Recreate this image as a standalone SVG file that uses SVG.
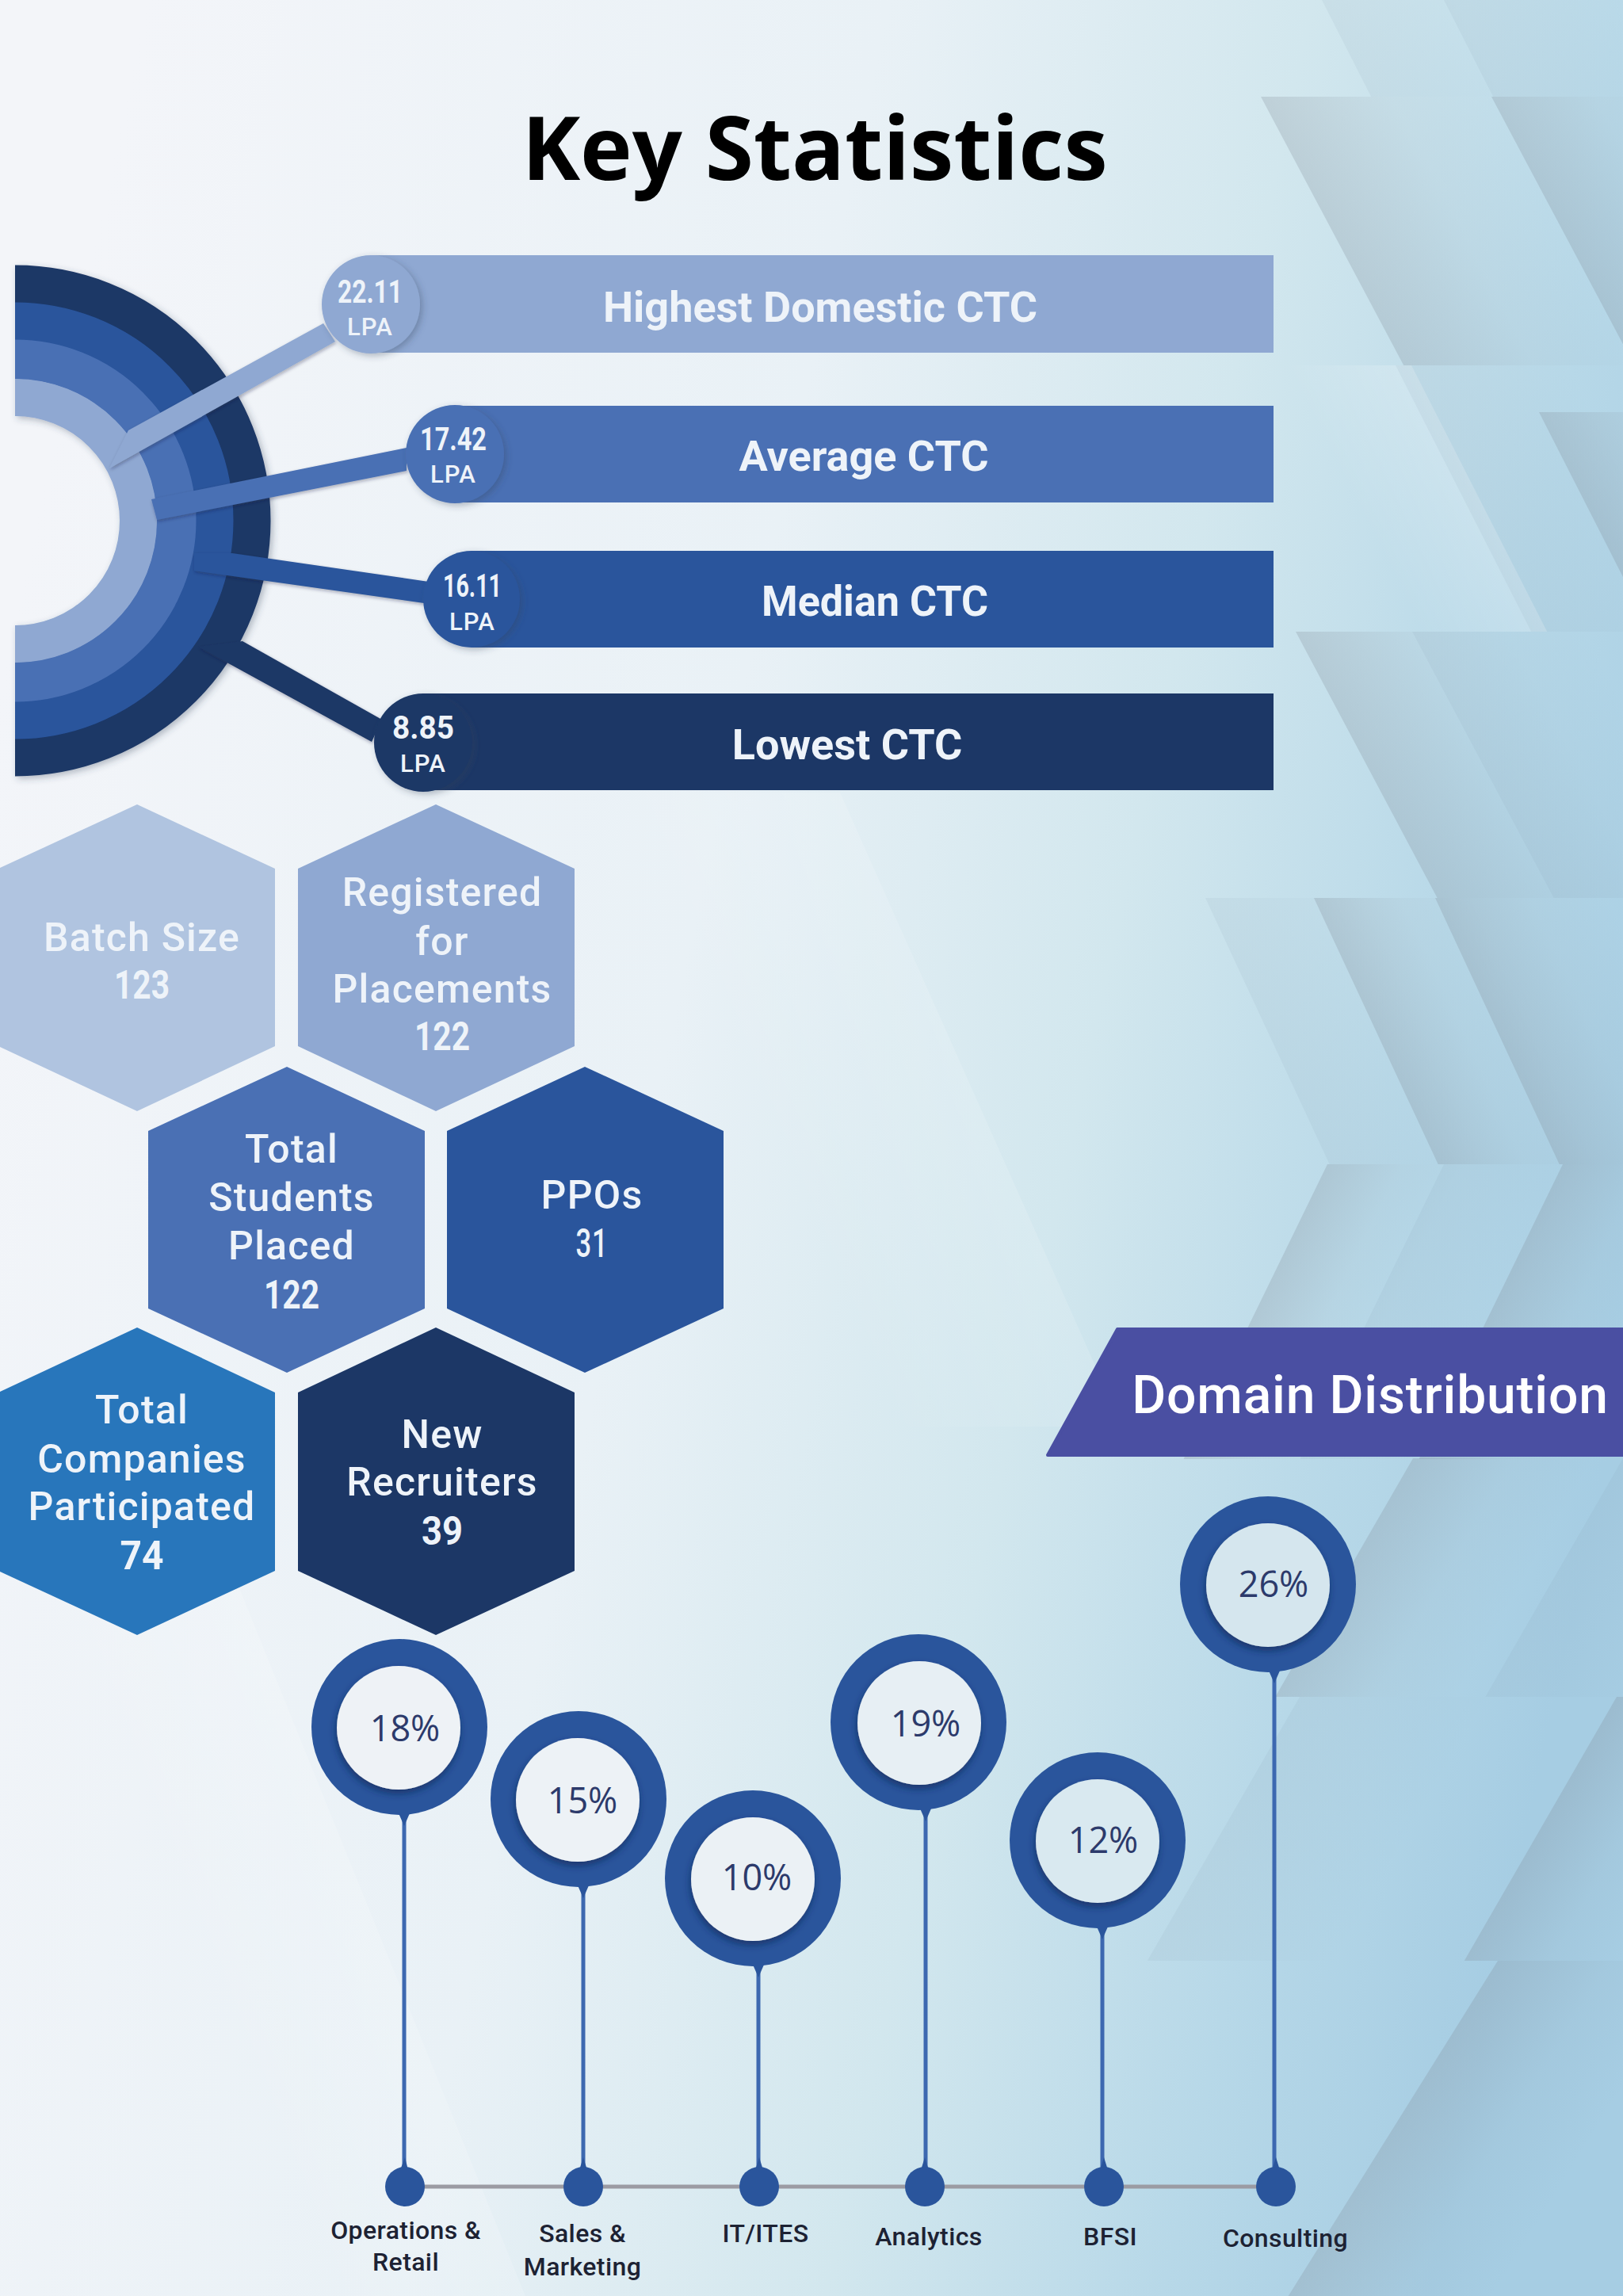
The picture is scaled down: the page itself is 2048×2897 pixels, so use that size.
<svg xmlns="http://www.w3.org/2000/svg" width="2048" height="2897" viewBox="0 0 2048 2897">
<defs>
<linearGradient id="bg" x1="0" y1="0.3" x2="1" y2="0.6"><stop offset="0" stop-color="#f3f5f9"/><stop offset="0.42" stop-color="#e9f1f6"/><stop offset="0.66" stop-color="#d2e7ee"/><stop offset="0.85" stop-color="#b7d8e8"/><stop offset="1" stop-color="#a6cde3"/></linearGradient>
<linearGradient id="shade"><stop offset="0" stop-color="#7b8490" stop-opacity="0.24"/><stop offset="0.55" stop-color="#7b8490" stop-opacity="0.06"/><stop offset="1" stop-color="#7b8490" stop-opacity="0"/></linearGradient>
<linearGradient id="soft"><stop offset="0" stop-color="#7d94a8" stop-opacity="0.1"/><stop offset="1" stop-color="#7d94a8" stop-opacity="0"/></linearGradient>
<linearGradient id="glow"><stop offset="0" stop-color="#ffffff" stop-opacity="0"/><stop offset="1" stop-color="#ffffff" stop-opacity="0.22"/></linearGradient>
<clipPath id="half"><rect x="19" y="300" width="500" height="720"/></clipPath>
<filter id="ds" x="-20%" y="-20%" width="140%" height="140%"><feDropShadow dx="3" dy="3" stdDeviation="4" flood-color="#33415c" flood-opacity="0.35"/></filter>
<filter id="cs" x="-10%" y="-30%" width="120%" height="160%"><feDropShadow dx="1" dy="2" stdDeviation="2" flood-color="#12203c" flood-opacity="0.35"/></filter>
<filter id="ins" x="-20%" y="-20%" width="140%" height="140%"><feDropShadow dx="-1" dy="5" stdDeviation="5" flood-color="#12285a" flood-opacity="0.7"/></filter>
<style>
.din{font-family:Roboto,"Liberation Sans",sans-serif;fill:#eef3f9;text-anchor:middle}
.hex{font-size:50px;letter-spacing:1.2px;font-weight:500}
.num{font-weight:700;letter-spacing:0}
.bar{font-size:54px;font-weight:700}
.val{font-size:41px;font-weight:700}
.lpa{font-size:31px;font-weight:500;letter-spacing:1px}
.pct{font-family:"Open Sans","Liberation Sans",sans-serif;font-size:45px;fill:#2c3a6b;text-anchor:middle}
.lab{font-family:Roboto,"Liberation Sans",sans-serif;font-size:32px;font-weight:500;letter-spacing:0.4px;fill:#1d2233;text-anchor:middle}
.ring{fill:#2a559c}
.inner{filter:url(#ins)}
.stem{stroke:#3d68b0;stroke-width:5;fill:none}
.dot{fill:#2a559c}
.c1{fill:#8fa8d2}.c2{fill:#4a70b4}.c3{fill:#2a559c}.c4{fill:#1c3766}
.w{transform-box:fill-box;transform-origin:0 0}
</style>
</defs>
<g id="background">
<rect width="2048" height="2897" fill="url(#bg)"/>
<rect class="w" x="1668" y="0" width="170" height="122" fill="url(#soft)" transform="skewX(27)"/>
<rect class="w" x="1822" y="0" width="226" height="122" fill="url(#soft)" transform="skewX(27)"/>
<rect class="w" x="1591" y="122" width="300" height="339" fill="url(#shade)" transform="skewX(28)"/>
<rect class="w" x="1882" y="122" width="240" height="339" fill="url(#shade)" transform="skewX(28)"/>
<rect class="w" x="1621" y="461" width="160" height="336" fill="url(#glow)" transform="skewX(27)"/>
<rect class="w" x="1761" y="461" width="220" height="336" fill="url(#soft)" transform="skewX(27)"/>
<rect class="w" x="1942" y="520" width="240" height="277" fill="url(#shade)" transform="skewX(27)"/>
<rect class="w" x="1635" y="797" width="270" height="336" fill="url(#shade)" transform="skewX(28)"/>
<rect class="w" x="1782" y="797" width="220" height="336" fill="url(#soft)" transform="skewX(28)"/>
<rect class="w" x="1521" y="1133" width="200" height="336" fill="url(#soft)" transform="skewX(25)"/>
<rect class="w" x="1658" y="1133" width="200" height="336" fill="url(#shade)" transform="skewX(25)"/>
<rect class="w" x="1811" y="1133" width="220" height="336" fill="url(#shade)" transform="skewX(25)"/>
<rect class="w" x="1675" y="1469" width="170" height="372" fill="url(#shade)" transform="skewX(-26)"/>
<rect class="w" x="1822" y="1469" width="170" height="372" fill="url(#soft)" transform="skewX(-26)"/>
<rect class="w" x="1972" y="1469" width="190" height="372" fill="url(#shade)" transform="skewX(-26)"/>
<rect class="w" x="1783" y="1840" width="230" height="301" fill="url(#shade)" transform="skewX(-30)"/>
<rect class="w" x="2048" y="1840" width="200" height="301" fill="url(#soft)" transform="skewX(-30)"/>
<rect class="w" x="1640" y="2141" width="240" height="333" fill="url(#soft)" transform="skewX(-30)"/>
<rect class="w" x="2040" y="2141" width="200" height="333" fill="url(#shade)" transform="skewX(-30)"/>
<rect class="w" x="1890" y="2474" width="260" height="423" fill="url(#shade)" transform="skewX(-32)"/>
<rect class="w" x="0" y="1900" width="260" height="997" fill="url(#glow)" transform="skewX(22)" opacity="0.7"/>
<rect class="w" x="760" y="1000" width="300" height="800" fill="url(#glow)" transform="skewX(24)" opacity="0.6"/>
</g>
<text id="title" x="1028" y="227" font-family="'Open Sans','Noto Sans',sans-serif" font-weight="700" font-size="111" text-anchor="middle" fill="#000">Key Statistics</text>
<g id="rings" filter="url(#ds)" fill="none">
<g clip-path="url(#half)">
<circle cx="19" cy="657" r="298.5" stroke="#1c3766" stroke-width="48"/>
<circle cx="19" cy="657" r="251.5" stroke="#2a559c" stroke-width="48"/>
<circle cx="19" cy="657" r="203.5" stroke="#4a70b4" stroke-width="50"/>
<circle cx="19" cy="657" r="155.5" stroke="#8fa8d2" stroke-width="47"/>
</g>
</g>
<g id="connectors">
<polygon class="c1" filter="url(#cs)" points="162,543 408,408 423,431 138,591"/>
<polygon class="c2" filter="url(#cs)" points="513,565 513,594 198,656 191,630"/>
<polygon class="c3" filter="url(#cs)" points="293,698 541,734 535,761 245,720 245,698"/>
<polygon class="c4" filter="url(#cs)" points="306,809 482,908 469,936 250,816"/>
<g id="timeline">
<line x1="511" y1="2759" x2="1610" y2="2759" stroke="#9b9ba3" stroke-width="5"/>
<path class="stem" d="M510 2285V2740"/><path class="stem" d="M736 2376V2740"/><path class="stem" d="M957 2477V2740"/><path class="stem" d="M1168 2280V2740"/><path class="stem" d="M1391 2430V2740"/><path class="stem" d="M1608 2105V2740"/>
</g>
</g>
<g id="bar-highest"><rect class="c1" x="468" y="322" width="1139" height="123"/><circle class="c1" cx="468" cy="384" r="62" filter="url(#ds)"/><text class="din bar" x="1035" y="406">Highest Domestic CTC</text><text class="din val" x="467" y="382" textLength="82" lengthAdjust="spacingAndGlyphs">22.11</text><text class="din lpa" x="467" y="423">LPA</text></g>
<g id="bar-average"><rect class="c2" x="574" y="512" width="1033" height="122"/><circle class="c2" cx="574" cy="573" r="62" filter="url(#ds)"/><text class="din bar" x="1090" y="594">Average CTC</text><text class="din val" x="572" y="568" textLength="84" lengthAdjust="spacingAndGlyphs">17.42</text><text class="din lpa" x="572" y="609">LPA</text></g>
<g id="bar-median"><rect class="c3" x="595" y="695" width="1012" height="122"/><circle class="c3" cx="595" cy="756" r="61" filter="url(#ds)"/><text class="din bar" x="1104" y="777" textLength="286" lengthAdjust="spacingAndGlyphs">Median CTC</text><text class="din val" x="596" y="753" textLength="74" lengthAdjust="spacingAndGlyphs">16.11</text><text class="din lpa" x="596" y="795">LPA</text></g>
<g id="bar-lowest"><rect class="c4" x="534" y="875" width="1073" height="122"/><circle class="c4" cx="534" cy="937" r="62" filter="url(#ds)"/><text class="din bar" x="1069" y="958">Lowest CTC</text><text class="din val" x="534" y="932" textLength="78" lengthAdjust="spacingAndGlyphs">8.85</text><text class="din lpa" x="534" y="974">LPA</text></g>
<g id="hex-batch"><polygon fill="#b0c4e0" points="173,1015 347,1096 347,1320 173,1402 -2,1320 -2,1096"/><text class="din hex" x="179" y="1200">Batch Size</text><text class="din hex num" x="179" y="1260" textLength="70" lengthAdjust="spacingAndGlyphs">123</text></g>
<g id="hex-registered"><polygon class="c1" points="550,1015 725,1096 725,1320 550,1402 376,1320 376,1096"/><text class="din hex" x="558" y="1143">Registered</text><text class="din hex" x="558" y="1205">for</text><text class="din hex" x="558" y="1265">Placements</text><text class="din hex num" x="558" y="1325" textLength="70" lengthAdjust="spacingAndGlyphs">122</text></g>
<g id="hex-placed"><polygon class="c2" points="362,1346 536,1427 536,1651 362,1732 187,1651 187,1427"/><text class="din hex" x="368" y="1467">Total</text><text class="din hex" x="368" y="1528">Students</text><text class="din hex" x="368" y="1589">Placed</text><text class="din hex num" x="368" y="1651" textLength="70" lengthAdjust="spacingAndGlyphs">122</text></g>
<g id="hex-ppos"><polygon class="c3" points="738,1346 913,1427 913,1651 738,1732 564,1651 564,1427"/><text class="din hex" x="747" y="1525">PPOs</text><text class="din hex" x="747" y="1586" textLength="41" lengthAdjust="spacingAndGlyphs">31</text></g>
<g id="hex-companies"><polygon fill="#2876bb" points="173,1675 347,1757 347,1982 173,2063 -2,1982 -2,1757"/><text class="din hex" x="179" y="1796">Total</text><text class="din hex" x="179" y="1858">Companies</text><text class="din hex" x="179" y="1918">Participated</text><text class="din hex num" x="179" y="1980" textLength="55" lengthAdjust="spacingAndGlyphs">74</text></g>
<g id="hex-recruiters"><polygon class="c4" points="550,1675 725,1757 725,1982 550,2063 376,1982 376,1757"/><text class="din hex" x="558" y="1827">New</text><text class="din hex" x="558" y="1887">Recruiters</text><text class="din hex num" x="558" y="1949" textLength="52" lengthAdjust="spacingAndGlyphs">39</text></g>
<g id="banner"><polygon fill="#4a4fa2" stroke="#4a4fa2" stroke-width="4" stroke-linejoin="round" points="1410,1677 2050,1677 2050,1836 1322,1836"/><text x="1729" y="1783" font-family="Roboto,'Liberation Sans',sans-serif" font-size="66" font-weight="500" letter-spacing="0.8" text-anchor="middle" fill="#fff">Domain Distribution</text></g>
<g id="d-ops"><circle class="ring" cx="504" cy="2179" r="111"/><circle class="inner" cx="503" cy="2180" r="78" fill="#eef2f6"/><polygon class="dot" points="503,2288 517,2288 510,2304"/><polygon class="dot" points="505,2738 515,2738 511,2722"/><text class="pct" x="511" y="2197">18%</text><circle class="dot" cx="511" cy="2759" r="25"/><text class="lab" x="512" y="2825">Operations &amp;</text><text class="lab" x="512" y="2865">Retail</text></g>
<g id="d-sales"><circle class="ring" cx="730" cy="2270" r="111"/><circle class="inner" cx="729" cy="2271" r="78" fill="#edf2f6"/><polygon class="dot" points="729,2379 743,2379 736,2395"/><polygon class="dot" points="731,2738 741,2738 736,2722"/><text class="pct" x="735" y="2288">15%</text><circle class="dot" cx="736" cy="2759" r="25"/><text class="lab" x="735" y="2829">Sales &amp;</text><text class="lab" x="735" y="2871">Marketing</text></g>
<g id="d-it"><circle class="ring" cx="950" cy="2370" r="111"/><circle class="inner" cx="950" cy="2371" r="78" fill="#ebf1f5"/><polygon class="dot" points="950,2479 964,2479 957,2495"/><polygon class="dot" points="953,2738 963,2738 958,2722"/><text class="pct" x="955" y="2385">10%</text><circle class="dot" cx="958" cy="2759" r="25"/><text class="lab" x="966" y="2829">IT/ITES</text></g>
<g id="d-analytics"><circle class="ring" cx="1159" cy="2173" r="111"/><circle class="inner" cx="1160" cy="2174" r="78" fill="#e7eff4"/><polygon class="dot" points="1161,2282 1175,2282 1168,2298"/><polygon class="dot" points="1162,2738 1172,2738 1167,2722"/><text class="pct" x="1168" y="2191">19%</text><circle class="dot" cx="1167" cy="2759" r="25"/><text class="lab" x="1172" y="2833">Analytics</text></g>
<g id="d-bfsi"><circle class="ring" cx="1385" cy="2322" r="111"/><circle class="inner" cx="1385" cy="2323" r="78" fill="#d9e9f0"/><polygon class="dot" points="1384,2431 1398,2431 1391,2447"/><polygon class="dot" points="1388,2738 1398,2738 1393,2722"/><text class="pct" x="1392" y="2338">12%</text><circle class="dot" cx="1393" cy="2759" r="25"/><text class="lab" x="1401" y="2833">BFSI</text></g>
<g id="d-consulting"><circle class="ring" cx="1600" cy="1999" r="111"/><circle class="inner" cx="1600" cy="2000" r="78" fill="#d5e6ee"/><polygon class="dot" points="1601,2108 1615,2108 1608,2124"/><polygon class="dot" points="1605,2738 1615,2738 1610,2722"/><text class="pct" x="1607" y="2015">26%</text><circle class="dot" cx="1610" cy="2759" r="25"/><text class="lab" x="1622" y="2835">Consulting</text></g>
</svg>
